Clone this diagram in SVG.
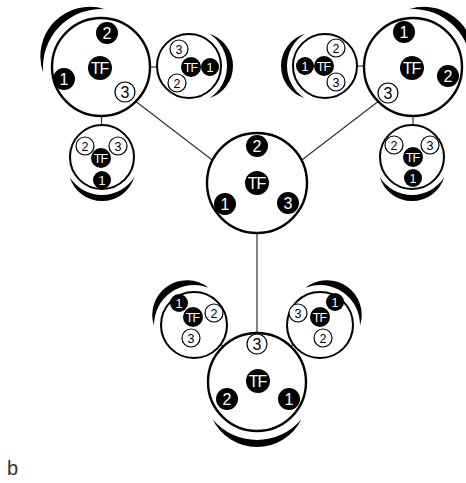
<svg xmlns="http://www.w3.org/2000/svg" width="466" height="483" viewBox="0 0 466 483">
<defs>
<style>
.ring{fill:#fff;stroke:#000;stroke-width:2.4}
.sring{fill:#fff;stroke:#000;stroke-width:2}
.bn{fill:#000}
.wn{fill:#fff;stroke:#000;stroke-width:1.2}
.tw{fill:#fff;font-family:"Liberation Sans",Arial,sans-serif;text-anchor:middle}
.tb{fill:#000;font-family:"Liberation Sans",Arial,sans-serif;text-anchor:middle}
.big{font-size:16px}
.sm{font-size:12.5px}
.tf{letter-spacing:-1px}
.cres{fill:#000}
.conn{stroke:#333;stroke-width:1.2;fill:none}
</style>
<path id="bigCres" d="M37.28,-44.43 A58,58 0 0 1 37.28,44.43 A49.47,49.47 0 0 0 37.28,-44.43 Z"/>
<path id="smCres" d="M20.14,-32.22 A38,38 0 0 1 20.14,32.22 A33.69,33.69 0 0 0 20.14,-32.22 Z"/>
<path id="smCres2" d="M22.37,-33.16 A40,40 0 0 1 22.37,33.16 A34.64,34.64 0 0 0 22.37,-33.16 Z"/>
</defs>
<rect width="466" height="483" fill="#fff"/>
<g id="connectors">
<line class="conn" x1="130" y1="97" x2="220" y2="166"/>
<line class="conn" x1="384" y1="97" x2="294" y2="166"/>
<line class="conn" x1="257" y1="225" x2="257" y2="340"/>
<line class="conn" x1="140" y1="67" x2="165" y2="67"/>
<line class="conn" x1="101.5" y1="110" x2="101.5" y2="130"/>
<line class="conn" x1="350" y1="66" x2="375" y2="66"/>
<line class="conn" x1="413" y1="110" x2="413" y2="130"/>
<line class="conn" x1="210" y1="335" x2="232" y2="354"/>
<line class="conn" x1="304" y1="335" x2="282" y2="354"/>
</g>
<g id="center">
<circle class="ring" cx="257" cy="183" r="50"/>
<circle class="bn" cx="257" cy="146" r="11"/><text class="tw big" x="257" y="151.7">2</text>
<circle class="bn" cx="257" cy="183" r="12"/><text class="tw big tf" x="256.5" y="188.7">TF</text>
<circle class="bn" cx="225" cy="204" r="11"/><text class="tw big" x="225" y="209.7">1</text>
<circle class="bn" cx="288" cy="203" r="11"/><text class="tw big" x="288" y="208.7">3</text>
</g>
<g id="topLeft">
<use href="#bigCres" class="cres" transform="translate(101,67) rotate(224)"/>
<circle class="ring" cx="101" cy="67" r="49"/>
<circle class="bn" cx="107" cy="33" r="11"/><text class="tw big" x="107" y="38.7">2</text>
<circle class="bn" cx="100" cy="68" r="12"/><text class="tw big tf" x="99.5" y="73.7">TF</text>
<circle class="bn" cx="64" cy="79" r="11"/><text class="tw big" x="64" y="84.7">1</text>
<circle class="wn" cx="125" cy="92" r="10"/><text class="tb big" x="125" y="97.7">3</text>
</g>
<g id="topRight">
<use href="#bigCres" class="cres" transform="translate(413,67) rotate(316)"/>
<circle class="ring" cx="413" cy="67" r="49"/>
<circle class="bn" cx="404" cy="32" r="11"/><text class="tw big" x="404" y="37.7">1</text>
<circle class="bn" cx="412" cy="68" r="12"/><text class="tw big tf" x="411.5" y="73.7">TF</text>
<circle class="bn" cx="448" cy="76" r="11"/><text class="tw big" x="448" y="81.7">2</text>
<circle class="wn" cx="388" cy="93" r="10"/><text class="tb big" x="388" y="98.7">3</text>
</g>
<g id="bottom">
<use href="#bigCres" class="cres" transform="translate(257,382) rotate(90)"/>
<circle class="ring" cx="257" cy="382" r="49"/>
<circle class="wn" cx="257" cy="344" r="10"/><text class="tb big" x="257" y="349.7">3</text>
<circle class="bn" cx="258" cy="381" r="12"/><text class="tw big tf" x="257.5" y="386.7">TF</text>
<circle class="bn" cx="227" cy="399" r="11"/><text class="tw big" x="227" y="404.7">2</text>
<circle class="bn" cx="289" cy="399" r="11"/><text class="tw big" x="289" y="404.7">1</text>
</g>
<g id="topLeftSide">
<use href="#smCres" class="cres" transform="translate(189,66) rotate(0)"/>
<circle class="sring" cx="189" cy="66" r="32"/>
<circle class="bn" cx="210" cy="67" r="9"/><text class="tw sm" x="210" y="71.5">1</text>
<circle class="bn" cx="191" cy="67" r="10"/><text class="tw sm tf" x="190.5" y="71.5">TF</text>
<circle class="wn" cx="179" cy="49" r="9"/><text class="tb sm" x="179" y="53.5">3</text>
<circle class="wn" cx="177" cy="83" r="9"/><text class="tb sm" x="177" y="87.5">2</text>
</g>
<g id="topLeftBelow">
<use href="#smCres" class="cres" transform="translate(102,157) rotate(90)"/>
<circle class="sring" cx="102" cy="157" r="32"/>
<circle class="bn" cx="102" cy="180" r="9"/><text class="tw sm" x="102" y="184.5">1</text>
<circle class="bn" cx="101" cy="158" r="10"/><text class="tw sm tf" x="100.5" y="162.5">TF</text>
<circle class="wn" cx="85" cy="146" r="9"/><text class="tb sm" x="85" y="150.5">2</text>
<circle class="wn" cx="118" cy="146" r="9"/><text class="tb sm" x="118" y="150.5">3</text>
</g>
<g id="topRightSide">
<use href="#smCres" class="cres" transform="translate(325,66) rotate(180)"/>
<circle class="sring" cx="325" cy="66" r="32"/>
<circle class="bn" cx="305" cy="66" r="9"/><text class="tw sm" x="305" y="70.5">1</text>
<circle class="bn" cx="324" cy="66" r="10"/><text class="tw sm tf" x="323.5" y="70.5">TF</text>
<circle class="wn" cx="336" cy="48" r="9"/><text class="tb sm" x="336" y="52.5">2</text>
<circle class="wn" cx="336" cy="82" r="9"/><text class="tb sm" x="336" y="86.5">3</text>
</g>
<g id="topRightBelow">
<use href="#smCres" class="cres" transform="translate(412,157) rotate(90)"/>
<circle class="sring" cx="412" cy="157" r="32"/>
<circle class="bn" cx="413" cy="178" r="9"/><text class="tw sm" x="413" y="182.5">1</text>
<circle class="bn" cx="413" cy="157" r="10"/><text class="tw sm tf" x="412.5" y="161.5">TF</text>
<circle class="wn" cx="394" cy="145" r="9"/><text class="tb sm" x="394" y="149.5">2</text>
<circle class="wn" cx="430" cy="145" r="9"/><text class="tb sm" x="430" y="149.5">3</text>
</g>
<g id="bottomLeft">
<use href="#smCres2" class="cres" transform="translate(194,325) rotate(235)"/>
<circle class="sring" cx="194" cy="325" r="33"/>
<circle class="bn" cx="179" cy="303" r="9"/><text class="tw sm" x="179" y="307.5">1</text>
<circle class="bn" cx="193" cy="317" r="10"/><text class="tw sm tf" x="192.5" y="321.5">TF</text>
<circle class="wn" cx="214" cy="313" r="9"/><text class="tb sm" x="214" y="317.5">2</text>
<circle class="wn" cx="191" cy="338" r="9"/><text class="tb sm" x="191" y="342.5">3</text>
</g>
<g id="bottomRight">
<use href="#smCres2" class="cres" transform="translate(320,325) rotate(305)"/>
<circle class="sring" cx="320" cy="325" r="33"/>
<circle class="bn" cx="335" cy="302" r="9"/><text class="tw sm" x="335" y="306.5">1</text>
<circle class="bn" cx="320" cy="317" r="10"/><text class="tw sm tf" x="319.5" y="321.5">TF</text>
<circle class="wn" cx="298" cy="313" r="9"/><text class="tb sm" x="298" y="317.5">3</text>
<circle class="wn" cx="323" cy="338" r="9"/><text class="tb sm" x="323" y="342.5">2</text>
</g>
<text id="label" x="7" y="475" font-family="Liberation Sans, Arial, sans-serif" font-size="20" fill="#333">b</text>
</svg>
